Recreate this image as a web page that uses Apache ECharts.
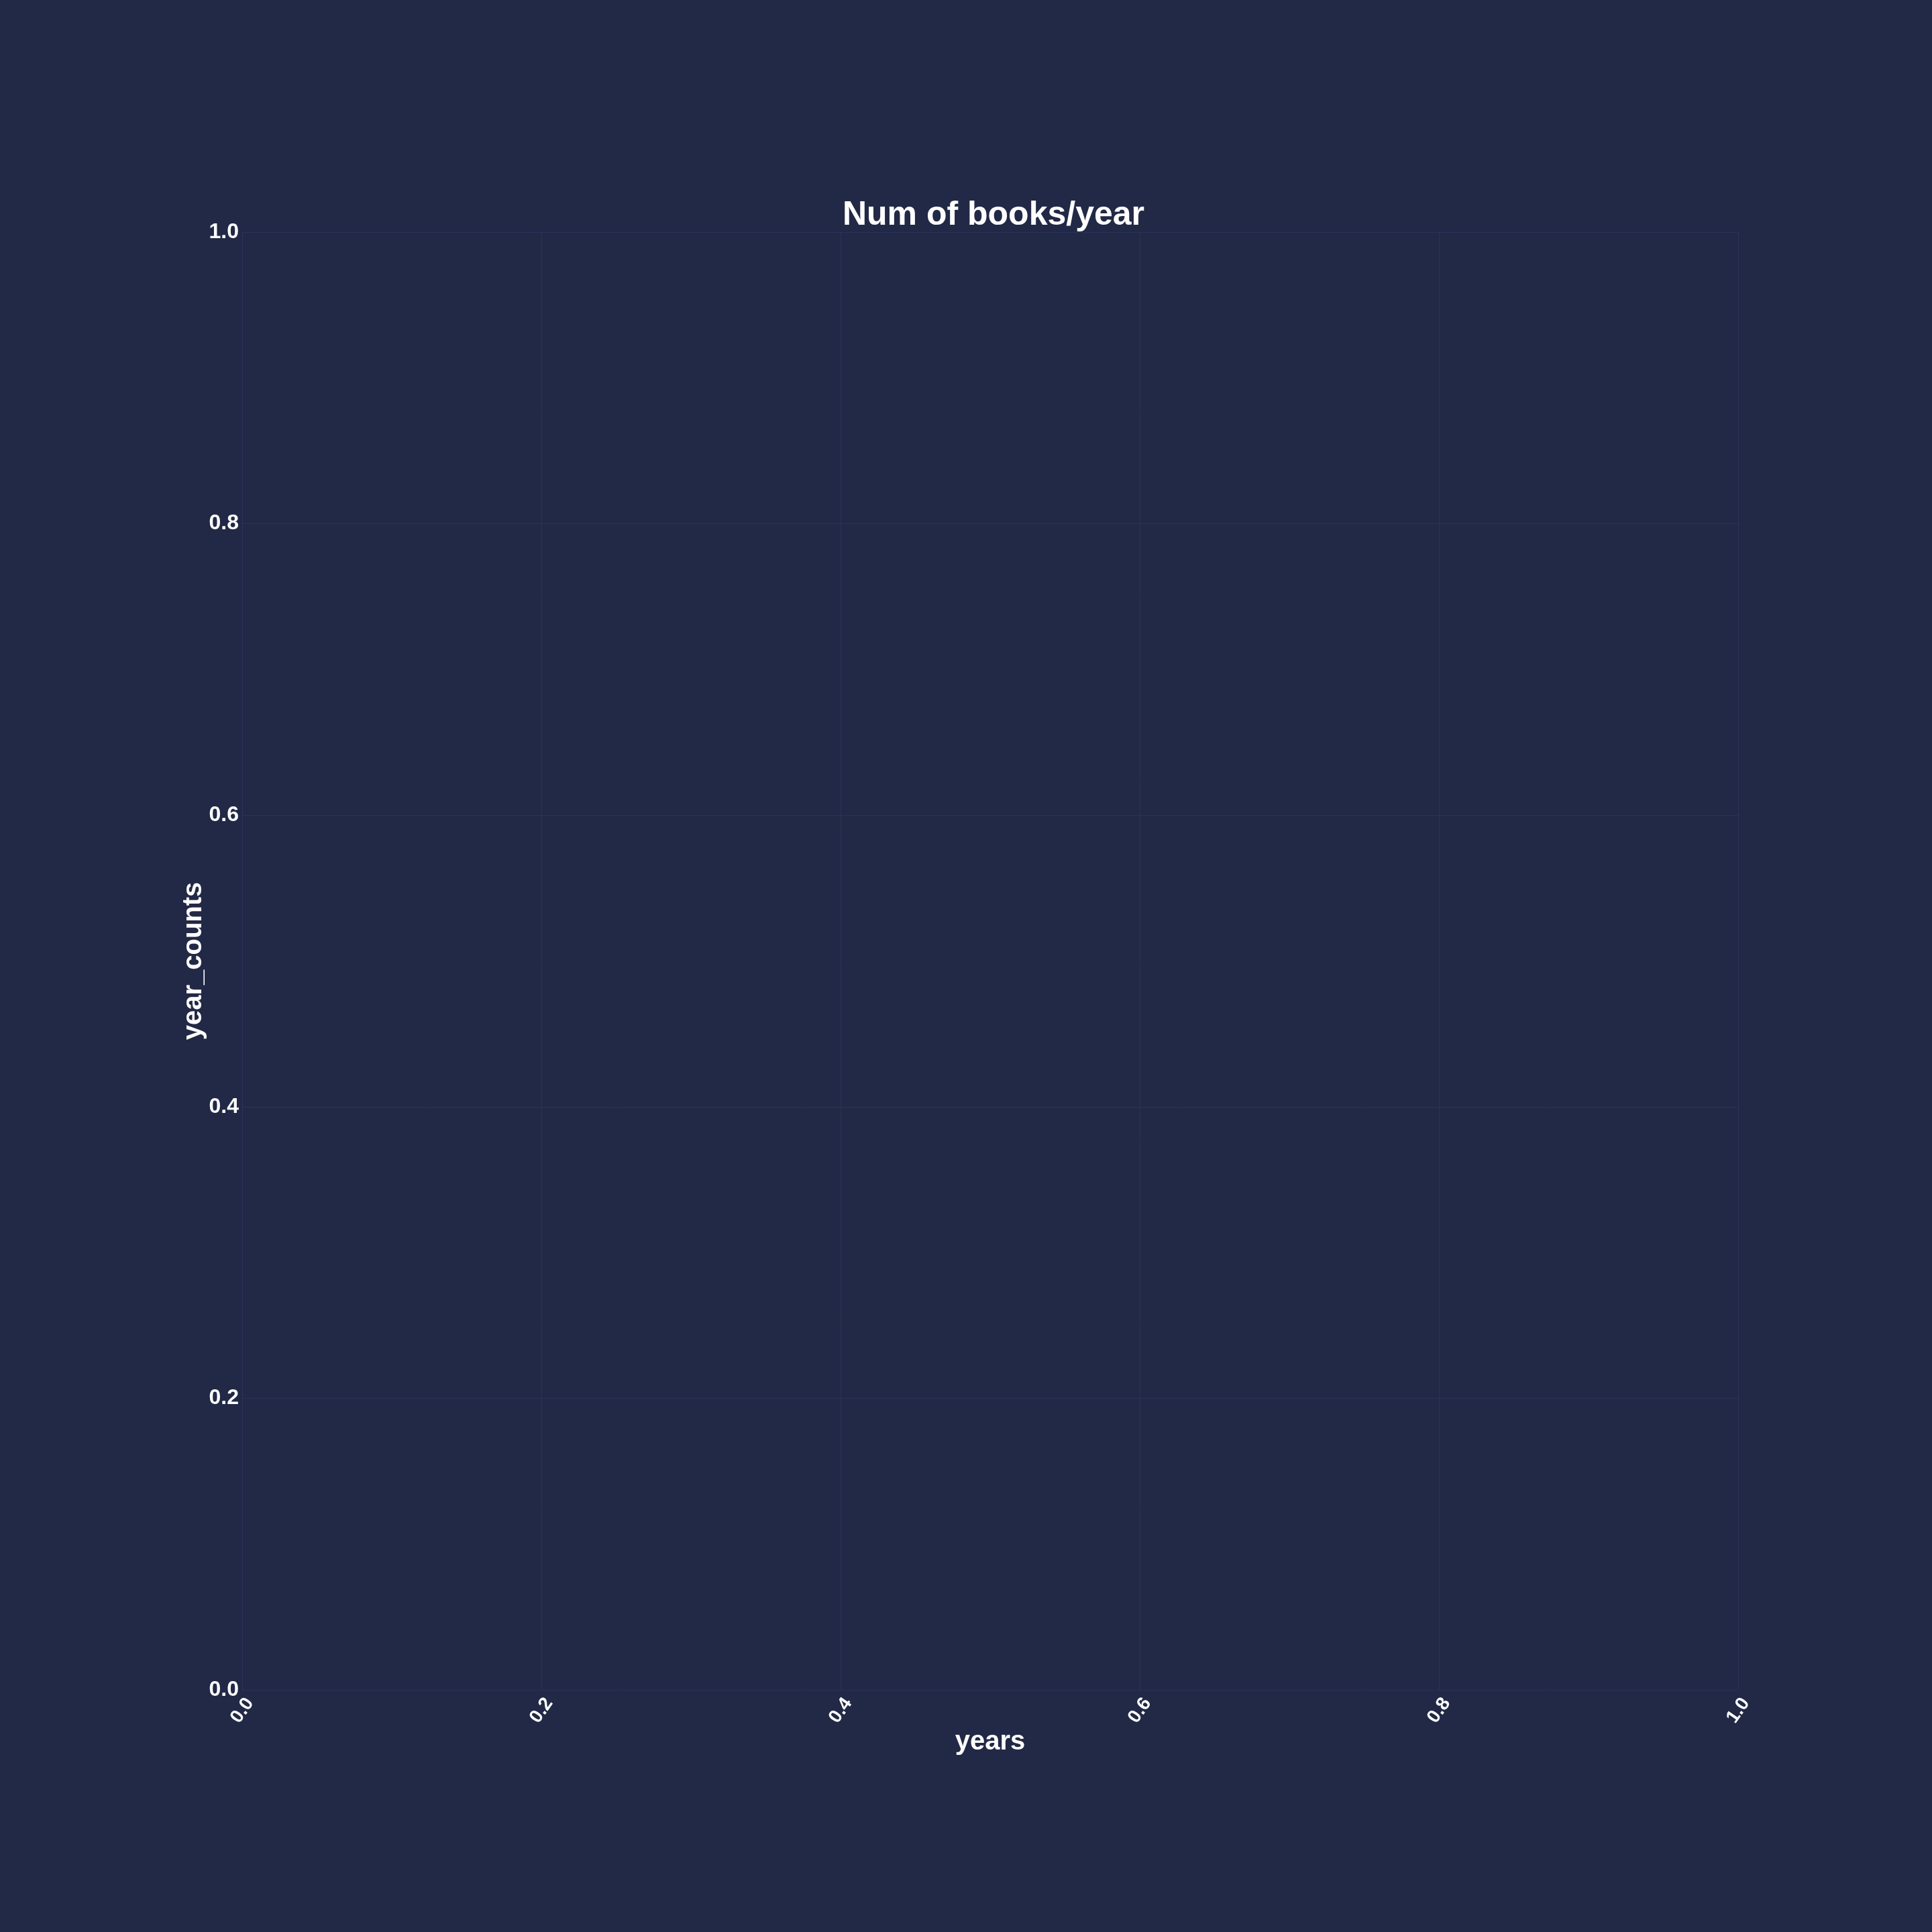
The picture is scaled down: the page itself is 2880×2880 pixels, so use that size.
<!DOCTYPE html>
<html>
<head>
<meta charset="utf-8">
<script src="https://cdn.jsdelivr.net/npm/echarts@6/dist/echarts.min.js"></script>
<style>
html,body{margin:0;padding:0;background:#222946;}
#chart{width:2880px;height:2880px;}
</style>
</head>
<body>
<div id="chart"></div>
<script>
// Data (the reference chart is empty: no bars were drawn)
const years = [];
const yearCounts = [];
const xTickValues = [0.0, 0.2, 0.4, 0.6, 0.8, 1.0];
const yTickValues = [0.0, 0.2, 0.4, 0.6, 0.8, 1.0];

const FONT = '"Liberation Sans", Arial, Helvetica, sans-serif';
const chart = echarts.init(document.getElementById('chart'), null, {renderer: 'canvas'});

const seriesData = years.map((y, i) => [y, yearCounts[i]]);

chart.setOption({
  backgroundColor: '#222946',
  animation: false,
  title: {
    text: 'Num of books/year',
    left: 1476,
    top: 291,
    textAlign: 'center',
    textStyle: {color: '#ffffff', fontSize: 50, fontWeight: 'bold', fontFamily: FONT}
  },
  grid: {left: 361, right: 2880 - 2591, top: 346, bottom: 2880 - 2519, containLabel: false},
  xAxis: {
    type: 'value',
    min: xTickValues[0],
    max: xTickValues[xTickValues.length - 1],
    interval: 0.2,
    name: 'years',
    nameLocation: 'middle',
    nameGap: 58,
    nameMoveOverlap: false,
    nameTextStyle: {color: '#ffffff', fontSize: 40, fontWeight: 'bold', fontFamily: FONT},
    axisLine: {show: false},
    axisTick: {show: false},
    axisLabel: {
      color: '#ffffff', fontSize: 28, fontWeight: 'bold', fontFamily: FONT,
      rotate: 55, margin: 7, verticalAlign: 'top',
      formatter: v => v.toFixed(1)
    },
    splitLine: {show: true, lineStyle: {color: '#2a3358', width: 1}}
  },
  yAxis: {
    type: 'value',
    min: yTickValues[0],
    max: yTickValues[yTickValues.length - 1],
    interval: 0.2,
    name: 'year_counts',
    nameLocation: 'middle',
    nameGap: 52,
    nameMoveOverlap: false,
    nameTextStyle: {color: '#ffffff', fontSize: 40, fontWeight: 'bold', fontFamily: FONT},
    axisLine: {show: false},
    axisTick: {show: false},
    axisLabel: {
      color: '#ffffff', fontSize: 32, fontWeight: 'bold', fontFamily: FONT,
      margin: 5,
      formatter: v => v.toFixed(1)
    },
    splitLine: {show: true, lineStyle: {color: '#2a3358', width: 1}}
  },
  series: [{
    type: 'bar',
    name: 'year_counts',
    data: seriesData,
    itemStyle: {color: '#636efa'}
  }]
});
</script>
</body>
</html>
